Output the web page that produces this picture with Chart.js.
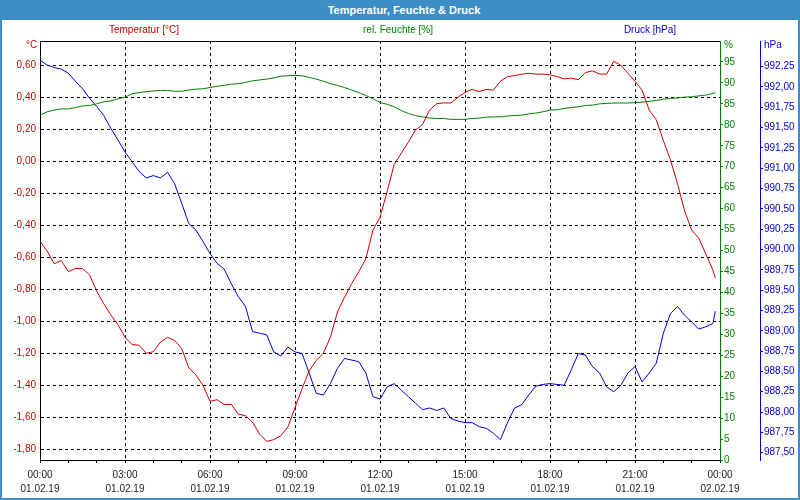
<!DOCTYPE html>
<html>
<head>
<meta charset="utf-8">
<script src="https://cdn.jsdelivr.net/npm/chart.js@4/dist/chart.umd.min.js"></script>
<style>
html,body{margin:0;padding:0;background:#fff;}
#wrap{position:relative;width:800px;height:500px;overflow:hidden;font-family:"Liberation Sans",Arial,sans-serif;}
#chart{position:absolute;left:0;top:0;}
#frame{position:absolute;left:0;top:0;width:796px;height:496px;border:2px solid #3d8ec6;pointer-events:none;}
#title{position:absolute;left:0;top:0;width:808px;height:20px;background:#3d8ec6;color:#fff;font-weight:bold;font-size:11px;line-height:20px;text-align:center;}
.lbl{position:absolute;font-size:10px;line-height:12px;white-space:nowrap;}
.c{transform:translateX(-50%);}
</style>
</head>
<body>
<div id="wrap">
  <canvas id="chart" width="800" height="500"></canvas>
  <div id="frame"></div>
  <div id="title">Temperatur, Feuchte &amp; Druck</div>
  <div class="lbl c" style="left:144px;top:24px;color:#cc0000;">Temperatur [°C]</div>
  <div class="lbl c" style="left:398px;top:24px;color:#008000;">rel. Feuchte [%]</div>
  <div class="lbl c" style="left:650px;top:24px;color:#0000cc;">Druck [hPa]</div>
  <div class="lbl" style="left:26px;top:39px;color:#cc0000;">°C</div>
  <div class="lbl" style="left:724px;top:39px;color:#008000;">%</div>
  <div class="lbl" style="left:764px;top:39px;color:#0000cc;">hPa</div>
</div>
<script>
// ---- data ----
const times = ["00:00","00:15","00:30","00:45","01:00","01:15","01:30","01:45","02:00","02:15","02:30","02:45",
"03:00","03:15","03:30","03:45","04:00","04:15","04:30","04:45","05:00","05:15","05:30","05:45",
"06:00","06:15","06:30","06:45","07:00","07:15","07:30","07:45","08:00","08:15","08:30","08:45",
"09:00","09:15","09:30","09:45","10:00","10:15","10:30","10:45","11:00","11:15","11:30","11:45",
"12:00","12:15","12:30","12:45","13:00","13:15","13:30","13:45","14:00","14:15","14:30","14:45",
"15:00","15:15","15:30","15:45","16:00","16:15","16:30","16:45","17:00","17:15","17:30","17:45",
"18:00","18:15","18:30","18:45","19:00","19:15","19:30","19:45","20:00","20:15","20:30","20:45",
"21:00","21:15","21:30","21:45","22:00","22:15","22:30","22:45","23:00","23:15","23:30","23:45","23:50"];

const temperature = [-0.50,-0.56,-0.64,-0.62,-0.69,-0.67,-0.67,-0.71,-0.81,-0.89,-0.96,-1.02,
-1.10,-1.145,-1.15,-1.20,-1.19,-1.13,-1.10,-1.12,-1.17,-1.29,-1.335,-1.40,
-1.50,-1.49,-1.52,-1.52,-1.58,-1.59,-1.63,-1.705,-1.75,-1.74,-1.715,-1.66,
-1.54,-1.42,-1.31,-1.245,-1.20,-1.10,-0.94,-0.85,-0.765,-0.69,-0.61,-0.43,
-0.35,-0.19,-0.02,0.05,0.12,0.195,0.23,0.32,0.36,0.365,0.365,0.40,
0.43,0.45,0.435,0.45,0.445,0.50,0.53,0.535,0.545,0.55,0.545,0.545,
0.54,0.53,0.515,0.52,0.51,0.555,0.565,0.545,0.545,0.625,0.60,0.55,
0.50,0.445,0.32,0.26,0.13,0.01,-0.14,-0.31,-0.43,-0.48,-0.58,-0.68,-0.73];

const humidity = [82.3,83.1,83.5,83.8,83.8,84.1,84.5,84.6,85.0,85.5,85.7,86.2,
86.6,87.4,87.7,87.9,88.1,88.2,88.2,88.0,88.0,88.3,88.5,88.6,
88.9,89.2,89.4,89.7,89.8,90.1,90.5,90.7,90.9,91.2,91.6,91.7,
91.8,91.7,91.3,90.9,90.4,89.8,89.4,88.9,88.3,87.7,87.0,86.2,
85.3,84.9,84.3,83.4,82.7,82.2,81.9,81.6,81.5,81.5,81.3,81.3,
81.3,81.5,81.6,81.8,81.9,81.9,82.1,82.2,82.3,82.6,82.8,83.1,
83.5,83.6,83.9,84.1,84.3,84.6,84.7,85.0,85.1,85.2,85.2,85.2,
85.3,85.4,85.6,85.8,86.1,86.3,86.4,86.6,86.7,86.9,87.1,87.5,87.7];

const pressure = [992.33,992.27,992.24,992.22,992.17,992.07,991.98,991.86,991.76,991.65,991.49,991.35,
991.20,991.08,990.96,990.88,990.91,990.88,990.95,990.81,990.57,990.32,990.24,990.10,
989.95,989.83,989.76,989.58,989.42,989.30,988.99,988.97,988.95,988.74,988.69,988.80,
988.74,988.72,988.48,988.23,988.21,988.35,988.54,988.66,988.64,988.62,988.48,988.19,
988.16,988.31,988.35,988.27,988.19,988.11,988.03,988.05,988.02,988.05,987.92,987.89,
987.87,987.87,987.82,987.80,987.74,987.66,987.87,988.05,988.09,988.21,988.32,988.34,
988.35,988.34,988.33,988.52,988.72,988.70,988.56,988.48,988.31,988.25,988.33,988.48,
988.56,988.37,988.48,988.60,988.97,989.21,989.30,989.19,989.11,989.02,989.05,989.09,989.24];

const tempTicks = [-1.8,-1.6,-1.4,-1.2,-1.0,-0.8,-0.6,-0.4,-0.2,0,0.2,0.4,0.6];
const humTicks = [0,5,10,15,20,25,30,35,40,45,50,55,60,65,70,75,80,85,90,95];
const pressTicks = [987.5,987.75,988,988.25,988.5,988.75,989,989.25,989.5,989.75,990,990.25,990.5,990.75,991,991.25,991.5,991.75,992,992.25];
const hourTicks = [0,1,2,3,4,5,6,7,8,9,10,11,12,13,14,15,16,17,18,19,20,21,22,23,24];
const labelHours = [0,3,6,9,12,15,18,21,24];
const xTimeLabels = ["00:00","03:00","06:00","09:00","12:00","15:00","18:00","21:00","00:00"];
const xDateLabels = ["01.02.19","01.02.19","01.02.19","01.02.19","01.02.19","01.02.19","01.02.19","01.02.19","02.02.19"];

// ---- chart ----
const FONT = "'Liberation Sans', Arial, sans-serif";
Chart.defaults.font.family = FONT;
Chart.defaults.font.size = 10;

const hours = times.map(s => { const p = s.split(':'); return +p[0] + (+p[1]) / 60; });
const pts = vals => vals.map((v, i) => ({x: hours[i], y: v}));

const topBorder = {
  id: 'topBorder',
  beforeDatasetsDraw(chart) {
    const {ctx, chartArea} = chart;
    ctx.save();
    ctx.strokeStyle = '#000';
    ctx.lineWidth = 1;
    ctx.beginPath();
    ctx.moveTo(chartArea.left, Math.round(chartArea.top) + 0.5);
    ctx.lineTo(chartArea.right, Math.round(chartArea.top) + 0.5);
    ctx.stroke();
    ctx.restore();
  }
};

new Chart(document.getElementById('chart'), {
  type: 'line',
  data: {
    datasets: [
      {label: 'Temperatur [°C]', data: pts(temperature), yAxisID: 'yT', borderColor: '#cc0000', borderWidth: 1, pointRadius: 0, fill: false, tension: 0},
      {label: 'rel. Feuchte [%]', data: pts(humidity), yAxisID: 'yH', borderColor: '#008000', borderWidth: 1, pointRadius: 0, fill: false, tension: 0},
      {label: 'Druck [hPa]', data: pts(pressure), yAxisID: 'yP', borderColor: '#0000cc', borderWidth: 1, pointRadius: 0, fill: false, tension: 0}
    ]
  },
  options: {
    responsive: false,
    animation: false,
    layout: {padding: {top: 41, left: 0, right: 0, bottom: 0}},
    plugins: {legend: {display: false}, tooltip: {enabled: false}, title: {display: false}},
    scales: {
      x: {
        type: 'linear', position: 'bottom', min: 0, max: 24,
        afterBuildTicks: s => { s.ticks = hourTicks.map(v => ({value: v})); },
        ticks: {
          autoSkip: false, maxRotation: 0, minRotation: 0, color: '#222', padding: 5,
          font: {size: 10, lineHeight: 1.4},
          callback: v => { const i = labelHours.indexOf(v); return i >= 0 ? [xTimeLabels[i], xDateLabels[i]] : ''; }
        },
        grid: {
          color: c => (c.tick && labelHours.includes(c.tick.value) && c.tick.value > 0 && c.tick.value < 24) ? '#000' : 'rgba(0,0,0,0)',
          tickColor: '#000', tickLength: 3, lineWidth: 1
        },
        border: {display: true, color: '#000', width: 1, dash: [3, 3]},
        afterFit: s => { s.height = 40; }
      },
      yT: {
        type: 'linear', position: 'left', min: -1.8669, max: 0.7519,
        afterBuildTicks: s => { s.ticks = tempTicks.map(v => ({value: v})); },
        ticks: {color: '#d00000', padding: 4, callback: v => v.toFixed(2).replace('.', ',')},
        grid: {color: '#000', drawTicks: false, lineWidth: 1},
        border: {display: true, color: '#000', width: 1, dash: [3, 3]},
        afterFit: s => { s.width = 40; }
      },
      yH: {
        type: 'linear', position: 'right', weight: 0, min: 0, max: 100,
        afterBuildTicks: s => { s.ticks = humTicks.map(v => ({value: v})); },
        ticks: {color: '#008000', padding: 1, callback: v => String(v)},
        grid: {drawOnChartArea: false, color: '#008000', tickColor: '#008000', tickLength: 3},
        border: {display: true, color: '#008000', width: 1},
        afterFit: s => { s.width = 40; }
      },
      yP: {
        type: 'linear', position: 'right', weight: 1, min: 987.41, max: 992.566,
        afterBuildTicks: s => { s.ticks = pressTicks.map(v => ({value: v})); },
        ticks: {color: '#0000cc', padding: 1, callback: v => v.toFixed(2).replace('.', ',')},
        grid: {drawOnChartArea: false, color: '#0000cc', tickColor: '#0000cc', tickLength: 3},
        border: {display: true, color: '#0000cc', width: 1},
        afterFit: s => { s.width = 40; }
      }
    }
  },
  plugins: [topBorder]
});
</script>
</body>
</html>
